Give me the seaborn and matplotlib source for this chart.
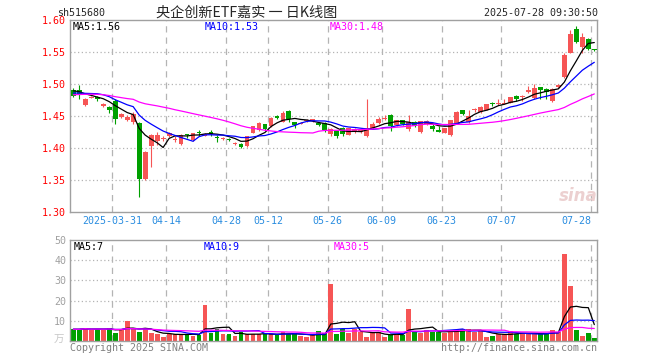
import numpy as np
import pandas as pd
import seaborn as sns
import matplotlib
matplotlib.use("Agg")
import matplotlib.pyplot as plt

# 央企创新ETF嘉实 日K (2025-03-20 ~ 2025-07-28)
opens = [1.491, 1.491, 1.467, 1.479, 1.479, 1.466, 1.464, 1.474, 1.449, 1.444,
         1.440, 1.439, 1.352, 1.403, 1.411, 1.415, 1.418, 1.413, 1.407, 1.421,
         1.412, 1.425, 1.419, 1.424, 1.417, 1.414, 1.414, 1.406, 1.407, 1.403,
         1.424, 1.428, 1.437, 1.434, 1.450, 1.441, 1.458, 1.440, 1.438, 1.442,
         1.442, 1.439, 1.439, 1.422, 1.426, 1.432, 1.421, 1.426, 1.426, 1.419,
         1.432, 1.439, 1.446, 1.452, 1.436, 1.443, 1.429, 1.440, 1.425, 1.438,
         1.435, 1.427, 1.424, 1.420, 1.438, 1.459, 1.440, 1.459, 1.456, 1.460,
         1.471, 1.469, 1.469, 1.471, 1.481, 1.480, 1.488, 1.478, 1.495, 1.492,
         1.473, 1.495, 1.511, 1.549, 1.586, 1.558, 1.571, 1.554]
highs = [1.493, 1.498, 1.478, 1.482, 1.481, 1.471, 1.465, 1.476, 1.455, 1.451,
         1.456, 1.440, 1.395, 1.422, 1.425, 1.419, 1.425, 1.418, 1.422, 1.422,
         1.424, 1.428, 1.423, 1.428, 1.420, 1.417, 1.415, 1.410, 1.408, 1.419,
         1.435, 1.440, 1.438, 1.448, 1.452, 1.458, 1.459, 1.441, 1.440, 1.446,
         1.446, 1.441, 1.440, 1.431, 1.427, 1.433, 1.432, 1.432, 1.430, 1.477,
         1.440, 1.448, 1.451, 1.453, 1.444, 1.444, 1.451, 1.442, 1.442, 1.443,
         1.437, 1.435, 1.432, 1.444, 1.458, 1.460, 1.460, 1.463, 1.465, 1.468,
         1.472, 1.477, 1.476, 1.480, 1.483, 1.483, 1.497, 1.500, 1.496, 1.493,
         1.493, 1.500, 1.549, 1.585, 1.591, 1.579, 1.572, 1.555]
lows = [1.480, 1.477, 1.465, 1.478, 1.473, 1.464, 1.455, 1.437, 1.447, 1.442,
        1.438, 1.324, 1.350, 1.371, 1.405, 1.411, 1.417, 1.409, 1.405, 1.416,
        1.411, 1.419, 1.418, 1.418, 1.409, 1.413, 1.411, 1.404, 1.400, 1.402,
        1.423, 1.427, 1.428, 1.433, 1.446, 1.440, 1.441, 1.432, 1.437, 1.440,
        1.441, 1.434, 1.425, 1.419, 1.416, 1.419, 1.420, 1.424, 1.424, 1.417,
        1.429, 1.438, 1.443, 1.426, 1.435, 1.436, 1.427, 1.433, 1.423, 1.436,
        1.426, 1.425, 1.423, 1.419, 1.437, 1.452, 1.439, 1.457, 1.455, 1.459,
        1.465, 1.467, 1.468, 1.470, 1.473, 1.474, 1.486, 1.477, 1.477, 1.477,
        1.472, 1.494, 1.510, 1.548, 1.564, 1.549, 1.553, 1.551]
closes = [1.482, 1.483, 1.477, 1.480, 1.476, 1.469, 1.460, 1.446, 1.453, 1.449,
          1.453, 1.352, 1.394, 1.421, 1.421, 1.416, 1.423, 1.414, 1.421, 1.420,
          1.423, 1.424, 1.422, 1.423, 1.416, 1.416, 1.412, 1.407, 1.401, 1.418,
          1.434, 1.439, 1.429, 1.447, 1.447, 1.455, 1.446, 1.436, 1.439, 1.443,
          1.445, 1.436, 1.428, 1.429, 1.419, 1.422, 1.431, 1.429, 1.427, 1.432,
          1.438, 1.446, 1.447, 1.434, 1.443, 1.437, 1.441, 1.435, 1.442, 1.442,
          1.429, 1.426, 1.431, 1.443, 1.457, 1.453, 1.450, 1.460, 1.464, 1.468,
          1.468, 1.471, 1.471, 1.479, 1.476, 1.482, 1.490, 1.493, 1.490, 1.488,
          1.492, 1.499, 1.546, 1.578, 1.566, 1.573, 1.554, 1.553]
# 成交量 (万)
volumes = [5.8, 5.8, 6.6, 5.3, 6.1, 5.6, 6.6, 4.0, 5.7, 9.8,
           5.8, 4.4, 5.8, 4.0, 3.3, 1.9, 3.6, 3.7, 3.7, 3.3,
           2.3, 2.8, 17.8, 4.0, 5.8, 3.3, 3.3, 2.3, 4.4, 3.3,
           3.6, 3.3, 3.6, 3.3, 2.8, 4.4, 3.6, 4.0, 2.3, 1.9,
           2.8, 5.0, 4.0, 28.3, 3.6, 5.7, 4.0, 6.1, 4.6, 2.0,
           4.0, 4.5, 2.0, 2.9, 3.3, 2.9, 15.8, 4.6, 4.0, 5.4,
           4.6, 4.6, 4.2, 4.8, 5.4, 6.0, 6.0, 4.6, 4.8, 2.0,
           2.3, 3.6, 3.6, 4.8, 3.6, 3.6, 3.6, 3.6, 3.6, 3.6,
           5.4, 4.6, 43.2, 27.2, 5.5, 2.6, 4.0, 1.3]
# closes before the window, only used to warm up the moving averages
close_prev = [1.472, 1.468, 1.475, 1.481, 1.488, 1.495, 1.502, 1.498, 1.493, 1.487,
              1.480, 1.476, 1.471, 1.469, 1.474, 1.478, 1.483, 1.479, 1.482, 1.486,
              1.484, 1.481, 1.483, 1.479, 1.485, 1.490, 1.494, 1.492, 1.489]

tick_pos = [7, 16, 26, 33, 43, 52, 62, 72, 87]
tick_labels = ["2025-03-31", "04-14", "04-28", "05-12", "05-26",
               "06-09", "06-23", "07-07", "07-28"]
price_ticks = [1.30, 1.35, 1.40, 1.45, 1.50, 1.55, 1.60]
vol_ticks = [10, 20, 30, 40, 50]

UP = '#f65555'
DOWN = '#00a000'
GRID = '#b4b4b4'
MA_COLORS = {5: 'black', 10: '#0000ff', 30: '#ff00ff'}

sns.set_style("white")
plt.rcParams['font.family'] = ['DejaVu Sans Mono', 'Noto Sans CJK SC']

n = len(closes)
df = pd.DataFrame({'x': np.arange(n), 'open': opens, 'high': highs,
                   'low': lows, 'close': closes, 'volume': volumes})
df['dir'] = np.where(df['close'] >= df['open'], 'up', 'down')
df['color'] = np.where(df['dir'] == 'up', UP, DOWN)

full = pd.Series(close_prev + closes)
for w in (5, 10, 30):
    df[f'ma{w}'] = full.rolling(w, min_periods=1).mean().values[-n:]
    df[f'vma{w}'] = df['volume'].rolling(w, min_periods=1).mean()

W, H = 660, 360
fig = plt.figure(figsize=(6.6, 3.6), dpi=100)
fig.patch.set_facecolor('white')
ax = fig.add_axes([70.3 / W, 1 - 212 / H, 527 / W, 192 / H])
axv = fig.add_axes([70.3 / W, 1 - 341 / H, 527 / W, 101 / H])


def fx(px, py):
    return px / W, 1 - py / H


# --- price panel ---
for a in (ax, axv):
    for p in tick_pos:
        a.axvline(p - 0.5, color=GRID, lw=0.9, ls=(0, (5, 4)), zorder=0)
    for s in a.spines.values():
        s.set_color('#a0a0a0')
        s.set_linewidth(1.0)
for v in price_ticks[1:-1]:
    ax.axhline(v, color=GRID, lw=0.9, ls=(0, (1, 2)), zorder=0)

ax.vlines(df['x'], df['low'], df['high'], colors=df['color'], lw=0.8, zorder=2)
body = np.abs(df['close'] - df['open'])
mid = (df['close'] + df['open']) / 2
bh = np.maximum(body, 0.0017)
ax.bar(df['x'], bh, bottom=mid - bh / 2, width=0.8, color=df['color'],
       linewidth=0, zorder=3)

for w in (5, 10, 30):
    sns.lineplot(data=df, x='x', y=f'ma{w}', ax=ax, color=MA_COLORS[w],
                 lw=0.9, zorder=4)

ax.set_xlim(-0.5, 87.5)
ax.set_ylim(1.30, 1.60)
ax.set_yticks(price_ticks)
ax.set_yticklabels([f"{v:.2f}" for v in price_ticks], color='red', fontsize=7.2)
ax.set_xticks([p - 0.5 for p in tick_pos])
ax.set_xticklabels(tick_labels, color='#2a8de0', fontsize=7.2)
ax.get_xticklabels()[-1].set_horizontalalignment('right')
ax.tick_params(length=0, pad=3)
ax.set_xlabel('')
ax.set_ylabel('')

# --- volume panel ---
for v in vol_ticks[:-1]:
    axv.axhline(v, color=GRID, lw=0.9, ls=(0, (1, 2)), zorder=0)
sns.barplot(data=df, x='x', y='volume', hue='dir', palette={'up': UP, 'down': DOWN},
            native_scale=True, width=0.8, dodge=False, legend=False,
            errorbar=None, saturation=1, linewidth=0, ax=axv, zorder=2)
for w in (5, 10, 30):
    sns.lineplot(data=df, x='x', y=f'vma{w}', ax=axv, color=MA_COLORS[w],
                 lw=0.9, zorder=4)
axv.set_xlim(-0.5, 87.5)
axv.set_ylim(0, 50)
axv.set_yticks(vol_ticks)
axv.set_yticklabels([str(v) for v in vol_ticks], color='#a0a0a0', fontsize=7.2)
axv.set_xticks([p - 0.5 for p in tick_pos])
axv.set_xticklabels([])
axv.tick_params(length=0, pad=3)
axv.set_xlabel('')
axv.set_ylabel('')

# --- texts ---
fig.text(*fx(57, 13), "sh515680", fontsize=7.2, va='center', ha='left')
fig.text(*fx(247, 13), "央企创新ETF嘉实 一 日K线图", fontsize=10.2, va='center',
         ha='center', family=['Noto Sans CJK SC', 'DejaVu Sans'])
fig.text(*fx(598, 13), "2025-07-28 09:30:50", fontsize=7.2, va='center', ha='right')

fig.text(*fx(73, 27), "MA5:1.56", fontsize=7.2, va='center', color='black')
fig.text(*fx(205, 27), "MA10:1.53", fontsize=7.2, va='center', color='#0000ff')
fig.text(*fx(330, 27), "MA30:1.48", fontsize=7.2, va='center', color='#ff00ff')

fig.text(*fx(74, 247), "MA5:7", fontsize=7.2, va='center', color='black')
fig.text(*fx(204, 247), "MA10:9", fontsize=7.2, va='center', color='#0000ff')
fig.text(*fx(334, 247), "MA30:5", fontsize=7.2, va='center', color='#ff00ff')

fig.text(*fx(64, 340), "万", fontsize=7.5, va='center', ha='right', color='#c8c8c8',
         family=['Noto Sans CJK SC', 'DejaVu Sans'])
fig.text(*fx(70, 348), "Copyright 2025 SINA.COM", fontsize=7.2, va='center',
         color='#808080')
fig.text(*fx(597, 348), "http://finance.sina.com.cn", fontsize=7.2, va='center',
         ha='right', color='#808080')
fig.text(*fx(578, 196), "sina", fontsize=12, va='center', ha='center',
         color='#ecd0d0', fontweight='bold', style='italic', family='DejaVu Sans')

fig.savefig('out.png', dpi=100, facecolor='white')
